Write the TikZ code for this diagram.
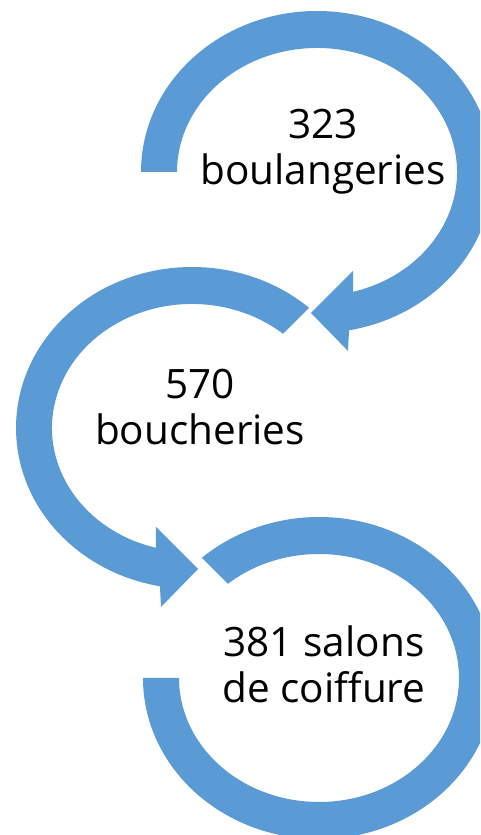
\documentclass[tikz,border=0pt]{standalone}
\usepackage{fontspec}
\setmainfont{Open Sans}
\usetikzlibrary{calc}
\definecolor{ringblue}{HTML}{5B9BD5}

\begin{document}
\begin{tikzpicture}[x=1pt,y=1pt,
  ring/.style={fill=ringblue},
  count/.style={align=center, font=\fontsize{40.5}{46}\selectfont}]
\useasboundingbox (0,0) rectangle (480,835);
\clip (0,0) rectangle (480,835);
% centres of the rings
\coordinate (c1) at (317,663);
\coordinate (c2) at (192,407);
\coordinate (c3) at (319,157);
% ring 1: clockwise, head at the bottom
\fill[ring] ($(c1)+(180:176 and 161)$) arc[start angle=180, end angle=-79.5, x radius=176, y radius=161]
  -- ($(c1)+(31,-179)$) -- ($(c1)+(-6,-141)$) -- ($(c1)+(36,-99)$)
  -- ($(c1)+(-75:140 and 124)$) arc[start angle=-75, end angle=180, x radius=140, y radius=124] -- cycle;
% ring 2: anticlockwise, head at the bottom
\fill[ring] ($(c2)+(48.3:176 and 161)$) arc[start angle=48.3, end angle=259.5, x radius=176, y radius=161]
  -- ($(c2)+(-31,-179)$) -- ($(c2)+(6,-141)$) -- ($(c2)+(-36,-99)$)
  -- ($(c2)+(255:140 and 124)$) arc[start angle=255, end angle=49.4, x radius=140, y radius=124] -- cycle;
% ring 3: no head
\fill[ring] ($(c3)+(180:176 and 161)$) arc[start angle=180, end angle=491.7, x radius=176, y radius=161]
  -- ($(c3)+(490.6:140 and 124)$) arc[start angle=490.6, end angle=180, x radius=140, y radius=124] -- cycle;
% texts
\node[count] (t1) at (323,683) {323\\boulangeries};
\node[count] (t2) at (200,428) {570\\boucheries};
\node[count] (t3) at (324,171) {381 salons\\de coiffure};
\end{tikzpicture}
\end{document}
